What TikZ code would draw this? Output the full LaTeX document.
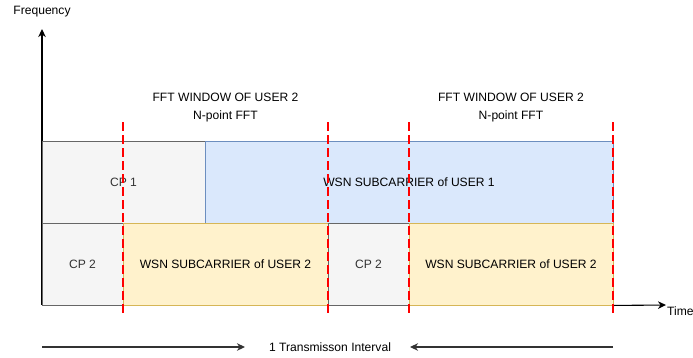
\documentclass[tikz,border=0pt]{standalone}
\usepackage{fontspec}
\setmainfont{Liberation Sans}
\usetikzlibrary{arrows.meta}
\definecolor{cpfill}{HTML}{F5F5F5}
\definecolor{cpline}{HTML}{666666}
\definecolor{bluefill}{HTML}{DAE8FC}
\definecolor{blueline}{HTML}{6C8EBF}
\definecolor{yelfill}{HTML}{FFF2CC}
\definecolor{yelline}{HTML}{D6B656}
\definecolor{cptext}{HTML}{333333}
\begin{document}
\begin{tikzpicture}[x=1pt,y=-1pt,
  lbl/.style={font=\fontsize{12.1}{14}\selectfont, inner sep=0pt},
  cpbox/.style={draw=cpline, fill=cpfill, line width=0.9pt, text=cptext, font=\fontsize{12.1}{14}\selectfont, inner sep=0pt},
  bluebox/.style={draw=blueline, fill=bluefill, line width=0.9pt, font=\fontsize{12.1}{14}\selectfont, inner sep=0pt},
  yelbox/.style={draw=yelline, fill=yelfill, line width=0.9pt, font=\fontsize{12.1}{14}\selectfont, inner sep=0pt},
  axis/.style={line width=1.1pt, -{Stealth[length=8pt,width=7.5pt,inset=2.5pt]}},
  span/.style={line width=1.1pt, draw=black!80, -{Stealth[length=8pt,width=7.5pt,inset=2.5pt]}},
  cut/.style={draw={rgb,255:red,255;green,0;blue,0}, line width=2.6pt, dash pattern=on 8.5pt off 4.5pt}
]
\useasboundingbox (0,0) rectangle (693,357);

% frequency/time axes
\coordinate (origin) at (42,305);
\coordinate (ftop) at (42,29);
\coordinate (tend) at (666,305);
\draw[axis] (origin) -- (ftop);
\draw[line width=1.1pt] (origin) -- (613,305);
\node[lbl, anchor=center] (freq) at (42,12) {Frequency};
\node[lbl, anchor=west] (time) at (667,311) {Time};

% upper band
\node[cpbox, minimum width=163pt, minimum height=82pt] (cp1) at (123.5,182) {CP 1};
\node[bluebox, minimum width=408pt, minimum height=82pt] (wsn1) at (409,182) {WSN SUBCARRIER of USER 1};

% lower band
\node[cpbox, minimum width=81pt, minimum height=82pt] (cp2a) at (82.5,264) {CP 2};
\node[yelbox, minimum width=205pt, minimum height=82pt] (wsn2a) at (225.5,264) {WSN SUBCARRIER of USER 2};
\node[cpbox, minimum width=81pt, minimum height=82pt] (cp2b) at (368.5,264) {CP 2};
\node[yelbox, minimum width=204pt, minimum height=82pt] (wsn2b) at (511,264) {WSN SUBCARRIER of USER 2};

\draw[axis] (wsn2b.south east) -- (tend);

% FFT window labels
\node[lbl] (fftA) at (225.5,97) {FFT WINDOW OF USER 2};
\node[lbl] (nptA) at (225.5,116.5) {N-point FFT};
\node[lbl] (fftB) at (511,97) {FFT WINDOW OF USER 2};
\node[lbl] (nptB) at (511,116.5) {N-point FFT};

% FFT window boundaries
\coordinate (c1t) at (123,122); \coordinate (c1b) at (123,316);
\coordinate (c2t) at (328,122); \coordinate (c2b) at (328,316);
\coordinate (c3t) at (409,122); \coordinate (c3b) at (409,316);
\coordinate (c4t) at (613,122); \coordinate (c4b) at (613,316);
\draw[cut] (c1t) -- (c1b);
\draw[cut] (c2t) -- (c2b);
\draw[cut] (c3t) -- (c3b);
\draw[cut] (c4t) -- (c4b);

% transmission interval
\node[lbl] (ti) at (330,347) {1 Transmisson Interval};
\coordinate (tiL) at (42,347);
\coordinate (tiR) at (613,347);
\draw[span] (tiL) -- (245,347);
\draw[span] (tiR) -- (410,347);
\end{tikzpicture}
\end{document}
